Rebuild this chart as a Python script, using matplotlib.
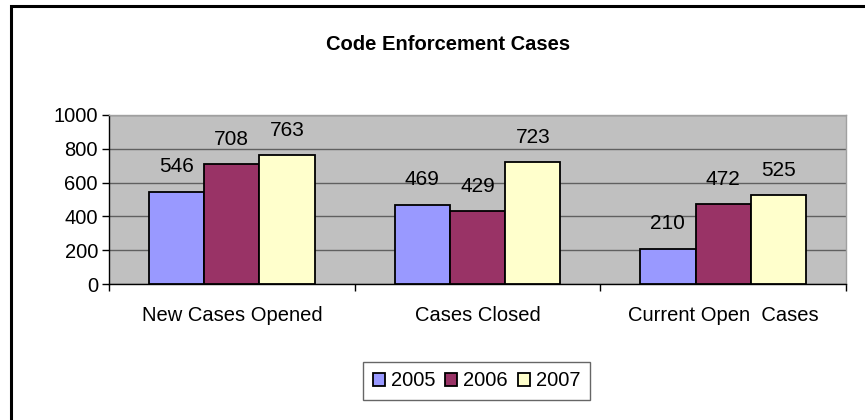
import numpy as np
import matplotlib
matplotlib.use("Agg")
import matplotlib.pyplot as plt
from matplotlib.patches import Rectangle

# chart data
categories = ["New Cases Opened", "Cases Closed", "Current Open  Cases"]
years = ["2005", "2006", "2007"]
cases_2005 = [546, 469, 210]
cases_2006 = [708, 429, 472]
cases_2007 = [763, 723, 525]
colors = ["#9999FF", "#993366", "#FFFFCC"]

plt.rcParams["font.family"] = ["Liberation Sans", "DejaVu Sans"]

fig = plt.figure(figsize=(8.65, 4.2), dpi=100)
ax = fig.add_axes([0.126, 0.3238, 0.852, 0.4024])

x = np.arange(len(categories))
width = 0.225
series = [cases_2005, cases_2006, cases_2007]
for i, (vals, color, year) in enumerate(zip(series, colors, years)):
    bars = ax.bar(x + (i - 1) * width, vals, width, color=color,
                  edgecolor="black", linewidth=1.3, label=year, zorder=3)
    for b, v in zip(bars, vals):
        ax.annotate(str(v), (b.get_x() + b.get_width() / 2, v),
                    xytext=(0, 11), textcoords="offset points",
                    ha="center", va="bottom", fontsize=15, zorder=4)

ax.set_facecolor("#C0C0C0")
ax.set_xlim(-0.5, 2.5)
ax.set_ylim(0, 1000)
ax.set_yticks(np.arange(0, 1001, 200))
ax.yaxis.grid(True, color="#606060", linewidth=1, zorder=0)
ax.set_axisbelow(True)

# category ticks between groups, labels centered
ax.set_xticks([-0.5, 0.5, 1.5, 2.5])
ax.set_xticklabels([])
ax.set_xticks(x, minor=True)
ax.set_xticklabels(categories, minor=True, fontsize=14.5)
ax.tick_params(axis="x", which="minor", length=0, pad=16)
ax.tick_params(axis="x", which="major", length=5, width=1, color="black")
ax.tick_params(axis="y", length=5, width=1, labelsize=14.5, pad=3)

for side in ["left", "bottom"]:
    ax.spines[side].set_color("black")
    ax.spines[side].set_linewidth(1)
for side in ["top", "right"]:
    ax.spines[side].set_color("#A0A0A0")
    ax.spines[side].set_linewidth(1)

fig.text(0.518, 0.895, "Code Enforcement Cases", ha="center", va="center",
         fontsize=14.5, fontweight="bold")

leg = fig.legend(loc="center", bbox_to_anchor=(0.551, 0.093), ncol=3,
                 fontsize=14.5, frameon=True, fancybox=False,
                 handlelength=0.6, handleheight=0.6, handletextpad=0.3,
                 columnspacing=0.5, borderpad=0.45)
leg.get_frame().set_edgecolor("#404040")
leg.get_frame().set_linewidth(1)

# outer chart border (left and top visible)
fig.patches.append(Rectangle((11 / 865, -0.1), 1.2, 1 - 6 / 420 + 0.1,
                             transform=fig.transFigure, fill=False,
                             edgecolor="black", linewidth=2.2))

fig.savefig("out.png", dpi=100)
